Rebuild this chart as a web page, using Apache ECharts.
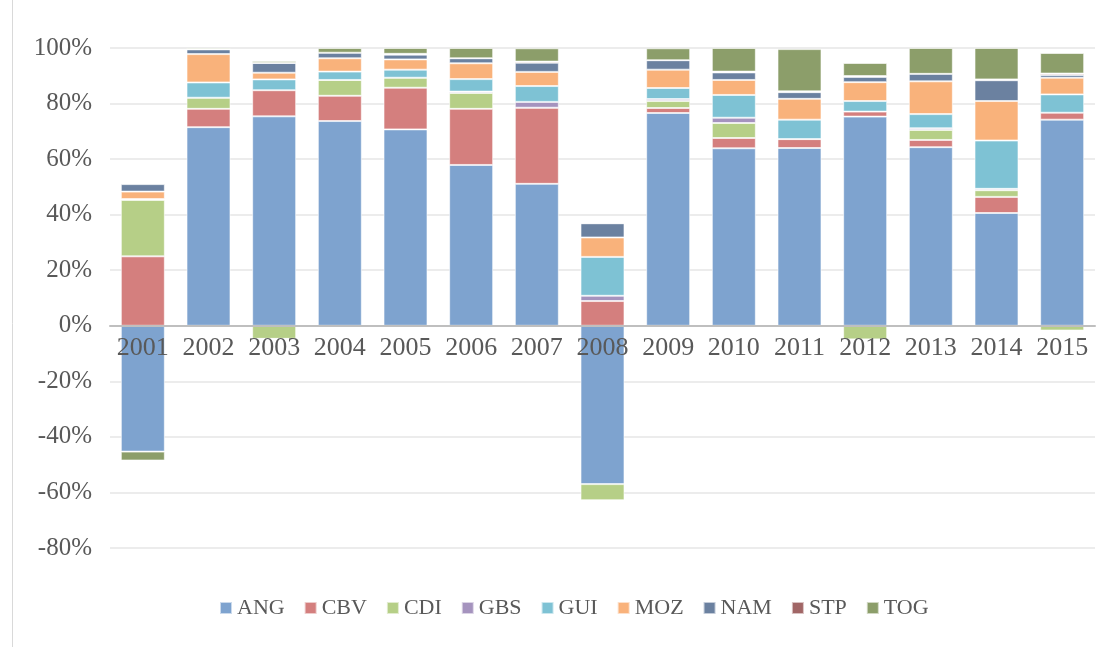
<!DOCTYPE html>
<html>
<head>
<meta charset="utf-8">
<script src="https://cdn.jsdelivr.net/npm/echarts@6/dist/echarts.min.js"></script>
<style>
html,body{margin:0;padding:0;background:#fff;}
#chart{width:1109px;height:647px;}
</style>
</head>
<body>
<div id="chart"></div>
<script>
const years = ['2001','2002','2003','2004','2005','2006','2007','2008','2009','2010','2011','2012','2013','2014','2015'];
const seriesNames = ['ANG','CBV','CDI','GBS','GUI','MOZ','NAM','STP','TOG'];
const ANG = [-45.3, 71.5, 75.4, 73.7, 70.7, 57.9, 51.1, -57.0, 76.6, 63.9, 64.0, 75.3, 64.3, 40.6, 74.2];
const CBV = [25.0, 6.6, 9.4, 9.1, 15.0, 20.2, 27.4, 8.9, 1.8, 3.7, 3.2, 1.8, 2.6, 5.8, 2.5];
const CDI = [20.3, 4.0, -4.7, 5.7, 3.6, 5.7, 0, -5.8, 2.5, 5.4, 0, -4.9, 3.6, 2.4, -1.7];
const GBS = [0.3, 0, 0, 0, 0, 0.5, 2.1, 1.9, 0.7, 1.9, -0.5, 0, 0.6, 0.5, 0];
const GUI = [0, 5.5, 3.9, 3.0, 2.9, 4.5, 5.7, 14.0, 4.0, 8.2, 7.0, 3.8, 5.1, 17.4, 6.6];
const MOZ = [2.7, 10.2, 2.4, 4.8, 3.7, 5.7, 5.1, 7.0, 6.6, 5.4, 7.5, 6.8, 11.8, 14.2, 6.0];
const NAM = [2.7, 1.7, 3.5, 2.0, 1.7, 1.8, 3.3, 5.1, 3.4, 2.7, 2.4, 1.9, 2.7, 7.5, 1.0];
const STP = [0.3, 0, 0, 0, 0.3, 0, 0.4, 0, 0, 0.3, 0.3, 0.3, 0, 0.3, 0.5];
const TOG = [-3.2, 0.5, 0.7, 1.7, 2.1, 3.7, 4.8, 0.4, 4.3, 8.5, 15.2, 4.7, 9.3, 11.3, 7.4];
const yTicks = [-80, -60, -40, -20, 0, 20, 40, 60, 80, 100];

const dataMap = {ANG, CBV, CDI, GBS, GUI, MOZ, NAM, STP, TOG};
const colors = ['#7EA3CF','#D47F7E','#B6CF87','#A593BE','#7EC2D4','#F9B27B','#6B81A0','#A16666','#8C9E6A'];
const font = 'Liberation Serif';

const gridTop = 48, gridBottom = 99, chartH = 647;
const plotH = chartH - gridTop - gridBottom;
const yMin = yTicks[0], yMax = yTicks[yTicks.length - 1];
// distance from bottom of plot to the zero line, used to lift the category axis onto y = 0
const zeroOffset = plotH * (0 - yMin) / (yMax - yMin);

const chart = echarts.init(document.getElementById('chart'), null, {renderer:'canvas'});
chart.setOption({
  animation: false,
  backgroundColor: '#fff',
  color: colors,
  graphic: [{
    type: 'rect',
    shape: {x: 12.5, y: -2, width: 1200, height: 700},
    style: {fill: 'none', stroke: '#d9d9d9', lineWidth: 1},
    silent: true
  }],
  grid: {left: 110, right: 14, top: gridTop, bottom: gridBottom, containLabel: false},
  legend: {
    bottom: 23,
    left: 214,
    itemWidth: 12,
    itemHeight: 12,
    itemGap: 19,
    icon: 'rect',
    textStyle: {fontFamily: font, fontSize: 22, color: '#595959'},
    data: seriesNames
  },
  xAxis: {
    type: 'category',
    data: years,
    offset: -zeroOffset,
    z: 10,
    axisLine: {onZero: false, lineStyle: {color: '#bfbfbf', width: 2}},
    axisTick: {show: false},
    axisLabel: {fontFamily: font, fontSize: 26, color: '#595959', margin: 9, interval: 0}
  },
  yAxis: {
    type: 'value',
    min: yMin,
    max: yMax,
    interval: 20,
    axisLine: {show: false},
    axisTick: {show: false},
    splitLine: {lineStyle: {color: '#ececec', width: 2}},
    axisLabel: {fontFamily: font, fontSize: 25, color: '#595959', margin: 18,
      formatter: v => v + '%'}
  },
  series: seriesNames.map(n => ({
    name: n,
    type: 'bar',
    stack: 'total',
    barWidth: '67%',
    data: dataMap[n],
    itemStyle: {borderColor: 'rgba(255,255,255,0.6)', borderWidth: 1}
  }))
});
</script>
</body>
</html>
